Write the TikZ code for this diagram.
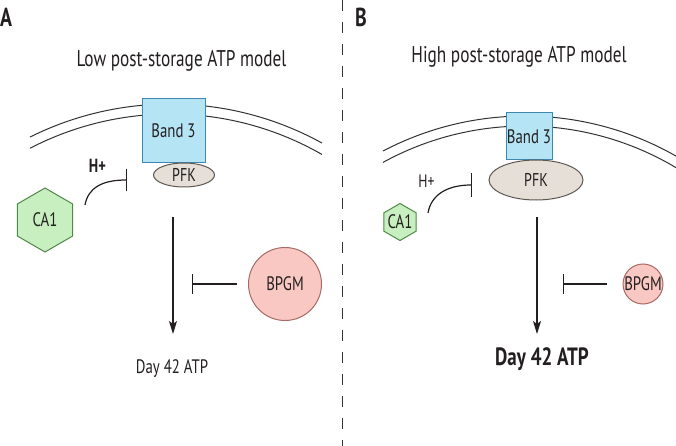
\documentclass[tikz,border=0pt]{standalone}
\usepackage{fontspec}
\setmainfont{PT Sans}[FakeStretch=0.76]
\usetikzlibrary{arrows.meta,shapes.geometric,calc}
\definecolor{txt}{HTML}{231F20}
\definecolor{bandfill}{HTML}{B5E4F5}
\definecolor{banddraw}{HTML}{3C88B0}
\definecolor{pfkfill}{HTML}{E5DFD8}
\definecolor{pfkdraw}{HTML}{5E5750}
\definecolor{cafill}{HTML}{C8EFC0}
\definecolor{cadraw}{HTML}{4E8A47}
\definecolor{bpfill}{HTML}{F9C8C2}
\definecolor{bpdraw}{HTML}{A86A64}
\definecolor{memb}{HTML}{333333}
\tikzset{
  every node/.style={text=txt},
  membline/.style={draw=memb,line width=1pt},
  bandbox/.style={rectangle,draw=banddraw,fill=bandfill,line width=1pt,inner sep=0pt,font=\fontsize{19.5}{21}\selectfont},
  pfkell/.style={ellipse,draw=pfkdraw,fill=pfkfill,line width=1pt,inner sep=0pt,font=\fontsize{18.5}{20}\selectfont},
  hexa/.style={regular polygon,regular polygon sides=6,shape border rotate=30,draw=cadraw,fill=cafill,line width=1pt,inner sep=0pt},
  bpcirc/.style={circle,draw=bpdraw,fill=bpfill,line width=1pt,inner sep=0pt},
  lbl/.style={font=\fontsize{19.5}{21}\selectfont},
  panel/.style={font=\fontsize{26}{28}\selectfont\bfseries,anchor=base west,inner sep=0pt},
  title/.style={font=\fontsize{22.7}{25}\selectfont,anchor=base,inner sep=0pt},
  arr/.style={draw=txt,line width=1.3pt,-{Stealth[length=13pt,width=8pt,inset=3pt]}},
  inh/.style={draw=txt,line width=1.2pt,-{Bar[width=#1,line width=1.4pt]}},
  inh/.default=20pt
}
\begin{document}
\begin{tikzpicture}[x=1pt,y=-1pt]
\useasboundingbox (0,0) rectangle (676,446);
\fill[white] (0,0) rectangle (676,446);
% divider
\draw[draw=memb,line width=1pt,dash pattern=on 11pt off 11pt] (342.5,0) -- (342.5,446);
% panel labels and titles
\node[panel] (labA) at (0,27) {A};
\node[panel] (labB) at (355,27) {B};
\node[title] (titA) at (181.5,67) {Low post-storage ATP model};
\node[title] (titB) at (519,63) {High post-storage ATP model};
% membranes
\coordinate (cA) at (170.3,418.5);
\coordinate (cB) at (524.9,421);
\draw[membline] ($(cA)+(-116.5:314.5)$) arc[start angle=-116.5,end angle=-61.16,radius=314.5];
\draw[membline] ($(cA)+(-117.44:304.5)$) arc[start angle=-117.44,end angle=-60.12,radius=304.5];
\draw[membline] ($(cB)+(-117.73:305)$) arc[start angle=-117.73,end angle=-60.3,radius=305];
\draw[membline] ($(cB)+(-118.75:295)$) arc[start angle=-118.75,end angle=-59.2,radius=295];
% ---------- panel A ----------
\node[bandbox,minimum width=63pt,minimum height=64pt] (bandA) at (173.5,131) {Band 3};
\node[pfkell,minimum width=61pt,minimum height=24pt] (pfkA) at (184,175) {PFK};
\node[font=\fontsize{19}{20}\selectfont\bfseries,anchor=base,inner sep=0pt] (hA) at (97.5,173) {H+};
\node[hexa,minimum size=64pt,label={[lbl]center:CA1}] (caA) at (45,220) {};
\node[bpcirc,minimum size=73pt,label={[lbl]center:BPGM}] (bpA) at (285,284) {};
\node[lbl,anchor=base,inner sep=0pt] (dayA) at (172,373) {Day 42 ATP};
\coordinate (hsA) at (85,205);
\coordinate (heA) at (127,180);
\draw[inh=22pt] (hsA) .. controls (88,188) and (102,180) .. (heA);
\coordinate (asA) at (173,217);
\coordinate (aeA) at (173,334);
\draw[arr] (asA) -- (aeA);
\coordinate (bA) at (192,284);
\draw[inh=20pt,shorten <=11pt] (bpA) -- (bA);
% ---------- panel B ----------
\node[bandbox,minimum width=46pt,minimum height=47pt] (bandB) at (529,136.5) {Band 3};
\node[pfkell,minimum width=94pt,minimum height=40pt] (pfkB) at (536,180) {PFK};
\node[font=\fontsize{18}{20}\selectfont,anchor=base,inner sep=0pt] (hB) at (426.5,188) {H+};
\node[hexa,minimum size=37pt,label={[lbl]center:CA1}] (caB) at (400,222) {};
\node[bpcirc,minimum size=40pt,label={[lbl]center:BPGM}] (bpB) at (643,284) {};
\node[font=\fontsize{25}{27}\selectfont\bfseries,anchor=base,inner sep=0pt] (dayB) at (542,365) {Day 42 ATP};
\coordinate (hsB) at (428,213);
\coordinate (heB) at (472,185);
\draw[inh=24pt] (hsB) .. controls (431,195) and (447,185) .. (heB);
\coordinate (asB) at (537,217);
\coordinate (aeB) at (537,334);
\draw[arr] (asB) -- (aeB);
\coordinate (bB) at (563,284);
\draw[inh=20pt,shorten <=16pt] (bpB) -- (bB);
\end{tikzpicture}
\end{document}
